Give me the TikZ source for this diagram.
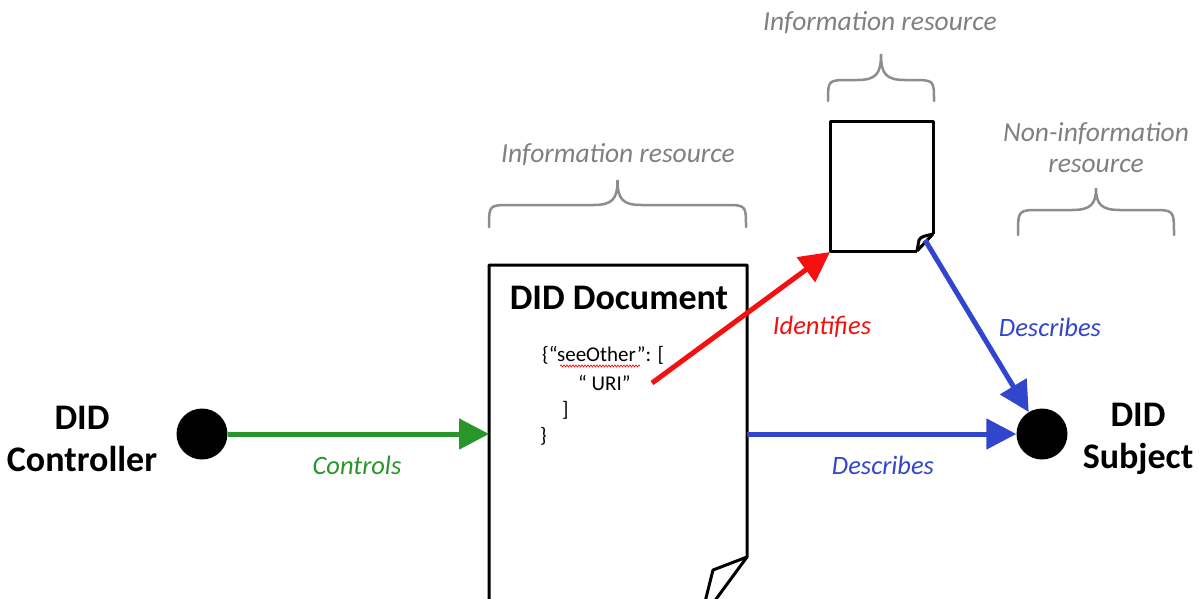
\documentclass[tikz,border=0pt]{standalone}
\usepackage{fontspec}
\setmainfont{Carlito}
\usetikzlibrary{arrows.meta,decorations.pathmorphing}
\definecolor{grn}{RGB}{40,150,40}
\definecolor{blu}{RGB}{50,70,205}
\definecolor{rd}{RGB}{245,15,15}
\definecolor{gry}{RGB}{128,128,128}
\newcommand\curlybrace[5]{% x1, x2, yend, yh, ytip
  \draw[brace] (#1,#3) .. controls (#1,#4) and (#1,#4) .. ({#1+22},#4)
    -- ({(#1+#2)/2-24},#4) .. controls ({(#1+#2)/2-5},#4) and ({(#1+#2)/2},{#4-6}) .. ({(#1+#2)/2},#5)
    .. controls ({(#1+#2)/2},{#4-6}) and ({(#1+#2)/2+5},#4) .. ({(#1+#2)/2+24},#4)
    -- ({#2-22},#4) .. controls (#2,#4) and (#2,#4) .. (#2,#3);}
\begin{document}
\begin{tikzpicture}[x=1pt,y=-1pt,
  dot/.style={circle,fill=black,minimum size=51pt,inner sep=0pt},
  bigtxt/.style={font=\fontsize{36}{42}\selectfont\bfseries,align=center,inner sep=0pt},
  grylbl/.style={text=gry,font=\fontsize{27.5}{31}\selectfont\itshape,align=center,inner sep=0pt},
  arr/.style={line width=5pt,-{Triangle[length=30pt,width=30pt]}},
  lbl/.style={font=\fontsize{26.5}{28}\selectfont\itshape,inner sep=0pt},
  doc/.style={line width=3pt,line join=round},
  brace/.style={gry!90,line width=2.5pt,line cap=round},
  code/.style={font=\fontsize{21}{26}\selectfont,anchor=west,inner sep=0pt}
]
\clip (0,0) rectangle (1199,598);
\fill[white] (0,0) rectangle (1199,598);

% big document
\draw[doc] (489,610) -- (489,265) -- (747,265) -- (747,557) -- (708,610);
\draw[doc] (747,557) -- (713,570) -- (703,610);
\coordinate (docL) at (489,434);
\coordinate (docR) at (747,434);
\coordinate (uri) at (652,383);

% small document
\draw[doc] (917,251) -- (830,251) -- (830,121) -- (933,121) -- (933,234);
\draw[doc] (933,234) .. controls (926,236) and (921,236) .. (919,240) -- (917,251);
\draw[doc] (933,234) -- (917,251);
\coordinate (sdBL) at (830,252);
\coordinate (sdBR) at (925,240);

% braces
\curlybrace{489}{746}{227}{205}{180}
\curlybrace{828}{934}{101}{80}{54}
\curlybrace{1018}{1174}{235}{210}{188}

% gray labels
\node[grylbl] (lblinfo1) at (880,23) {Information resource};
\node[grylbl] (lblinfo2) at (618,155) {Information resource};
\node[grylbl] (lblnon) at (1096,148) {Non-information\\resource};

% circles and labels
\node[dot] (ctrl) at (202,434) {};
\node[dot] (subj) at (1042,434) {};
\node[bigtxt] (ctrltxt) at (82,439) {DID\\Controller};
\node[bigtxt] (subjtxt) at (1138,439) {DID\\Subject};
\node[bigtxt] (doctitle) at (619,298) {DID Document};

% code
\node[code] (c1) at (542,355) {\{“seeOther”: [};
\node[code] (c2) at (578,383) {“ URI”};
\node[code] (c3) at (562,410) {]};
\node[code] (c4) at (540,436) {\}};
\draw[rd,line width=0.7pt,decorate,decoration={snake,amplitude=1pt,segment length=3pt}] (560,366) -- (640,366);

% connectors
\draw[arr,grn] (ctrl) -- (docL);
\draw[arr,blu] (docR) -- (subj);
\draw[arr,blu] (sdBR) -- (subj);
\draw[arr,rd] (uri) -- (sdBL);

% connector labels
\node[lbl,text=grn] (lctrl) at (357,465) {Controls};
\node[lbl,text=blu] (ldesc1) at (883,465) {Describes};
\node[lbl,text=blu] (ldesc2) at (1050,327) {Describes};
\node[lbl,text=rd] (lident) at (822,327) {Identifies};
\end{tikzpicture}
\end{document}
